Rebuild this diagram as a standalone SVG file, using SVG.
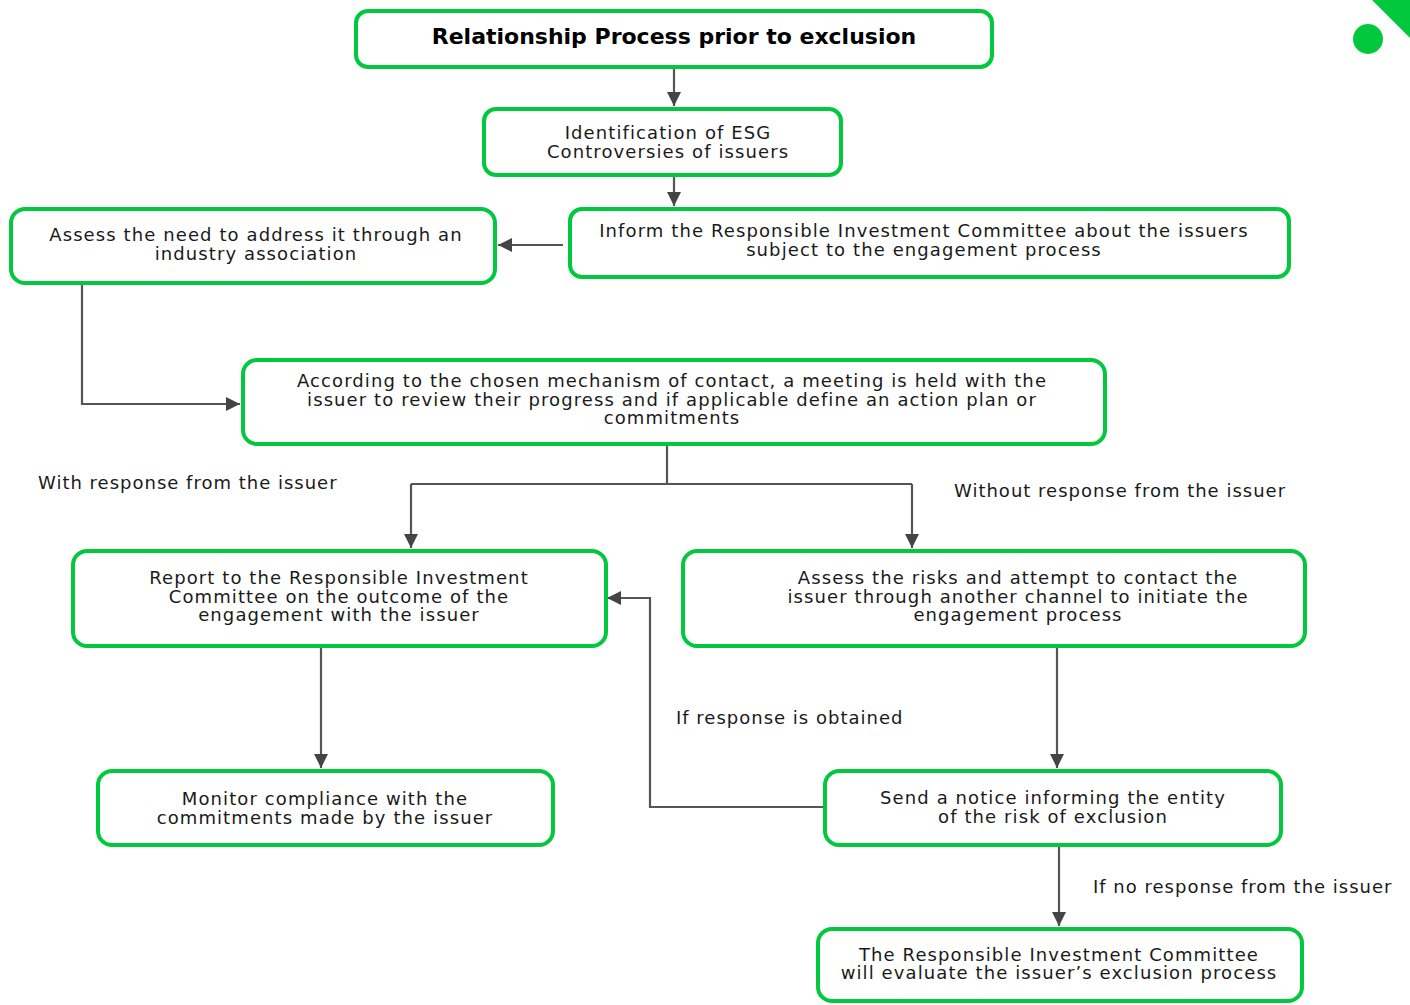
<svg xmlns="http://www.w3.org/2000/svg" width="1410" height="1005" viewBox="0 0 1410 1005">
<defs>
<style>
.box{fill:#fff;stroke:#02c83d;stroke-width:4}
.t{font-family:"DejaVu Sans","Liberation Sans",sans-serif;font-size:18px;letter-spacing:1.1px;fill:#1a1a1a;text-anchor:middle}
.lbl{font-family:"DejaVu Sans","Liberation Sans",sans-serif;font-size:18px;letter-spacing:1.0px;fill:#1a1a1a}
.title{font-family:"DejaVu Sans","Liberation Sans",sans-serif;font-size:22px;font-weight:bold;fill:#000;text-anchor:middle}
.c{fill:none;stroke:#555;stroke-width:2.2}
</style>
<marker id="ah" viewBox="0 0 10 10" refX="10" refY="5" markerWidth="14" markerHeight="14" markerUnits="userSpaceOnUse" orient="auto">
<path d="M0,0 L10,5 L0,10 Z" fill="#444"/>
</marker>
</defs>
<rect width="1410" height="1005" fill="#fff"/>
<g id="deco">
<circle cx="1368" cy="39" r="15" fill="#02c83d"/>
<polygon points="1372,0 1410,0 1410,38" fill="#02c83d"/>
</g>
<g id="connectors">
<path class="c" d="M674,69 V106" marker-end="url(#ah)"/>
<path class="c" d="M674,177 V206" marker-end="url(#ah)"/>
<path class="c" d="M563,245 H498" marker-end="url(#ah)"/>
<path class="c" d="M82,285 V404 H240" marker-end="url(#ah)"/>
<path class="c" d="M667,446 V484"/>
<path class="c" d="M411,484 H912"/>
<path class="c" d="M411,484 V548" marker-end="url(#ah)"/>
<path class="c" d="M912,484 V548" marker-end="url(#ah)"/>
<path class="c" d="M321,648 V768" marker-end="url(#ah)"/>
<path class="c" d="M1057,648 V768" marker-end="url(#ah)"/>
<path class="c" d="M823,807 H650 V598 H607" marker-end="url(#ah)"/>
<path class="c" d="M1059,847 V926" marker-end="url(#ah)"/>
</g>
<g id="labels">
<text class="lbl" x="38" y="489">With response from the issuer</text>
<text class="lbl" x="954" y="497">Without response from the issuer</text>
<text class="lbl" x="676" y="724">If response is obtained</text>
<text class="lbl" x="1093" y="893">If no response from the issuer</text>
</g>
<g id="n-title">
<rect class="box" x="356" y="11" width="636" height="56" rx="12"/>
<text class="title" x="674" y="44">Relationship Process prior to exclusion</text>
</g>
<g id="n-ident">
<rect class="box" x="484" y="109" width="357" height="66" rx="12"/>
<text class="t" x="668" y="139">Identification of ESG</text>
<text class="t" x="668" y="158">Controversies of issuers</text>
</g>
<g id="n-assess-need">
<rect class="box" x="11" y="209" width="484" height="74" rx="14"/>
<text class="t" x="256" y="241">Assess the need to address it through an</text>
<text class="t" x="256" y="260">industry association</text>
</g>
<g id="n-inform">
<rect class="box" x="570" y="209" width="719" height="68" rx="12"/>
<text class="t" x="924" y="237">Inform the Responsible Investment Committee about the issuers</text>
<text class="t" x="924" y="256">subject to the engagement process</text>
</g>
<g id="n-according">
<rect class="box" x="243" y="360" width="862" height="84" rx="14"/>
<text class="t" x="672" y="387">According to the chosen mechanism of contact, a meeting is held with the</text>
<text class="t" x="672" y="406">issuer to review their progress and if applicable define an action plan or</text>
<text class="t" x="672" y="424">commitments</text>
</g>
<g id="n-report">
<rect class="box" x="73" y="551" width="533" height="95" rx="14"/>
<text class="t" x="339" y="584">Report to the Responsible Investment</text>
<text class="t" x="339" y="603">Committee on the outcome of the</text>
<text class="t" x="339" y="621">engagement with the issuer</text>
</g>
<g id="n-assess-risks">
<rect class="box" x="683" y="551" width="622" height="95" rx="14"/>
<text class="t" x="1018" y="584">Assess the risks and attempt to contact the</text>
<text class="t" x="1018" y="603">issuer through another channel to initiate the</text>
<text class="t" x="1018" y="621">engagement process</text>
</g>
<g id="n-monitor">
<rect class="box" x="98" y="771" width="455" height="74" rx="14"/>
<text class="t" x="325" y="805">Monitor compliance with the</text>
<text class="t" x="325" y="824">commitments made by the issuer</text>
</g>
<g id="n-send">
<rect class="box" x="825" y="771" width="456" height="74" rx="14"/>
<text class="t" x="1053" y="804">Send a notice informing the entity</text>
<text class="t" x="1053" y="823">of the risk of exclusion</text>
</g>
<g id="n-final">
<rect class="box" x="818" y="929" width="484" height="72" rx="14"/>
<text class="t" x="1059" y="961">The Responsible Investment Committee</text>
<text class="t" x="1059" y="979">will evaluate the issuer’s exclusion process</text>
</g>
</svg>
